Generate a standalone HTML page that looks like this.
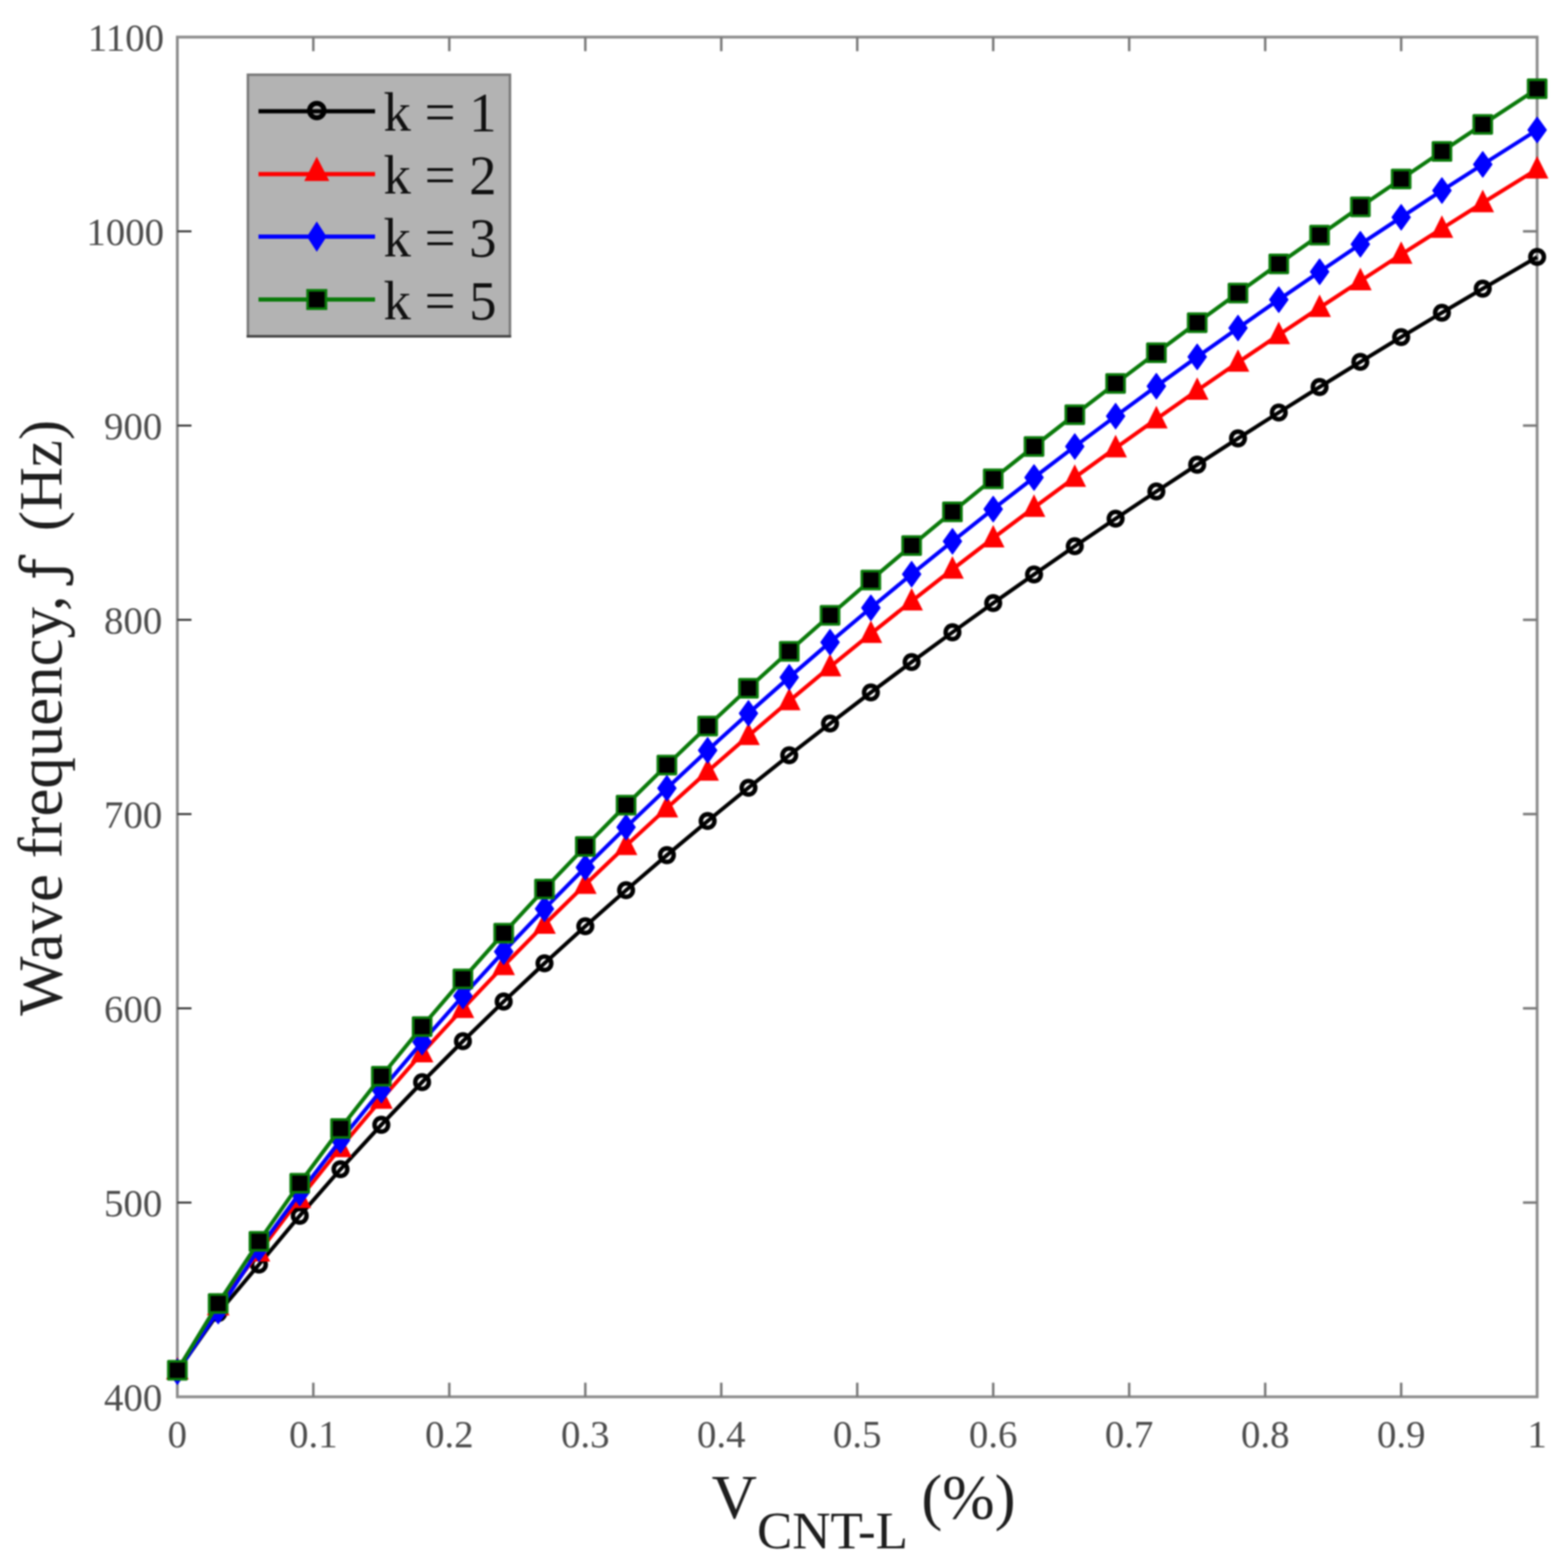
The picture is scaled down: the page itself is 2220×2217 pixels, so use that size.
<!DOCTYPE html>
<html><head><meta charset="utf-8"><title>Wave frequency vs V_CNT-L</title>
<style>
html,body{margin:0;padding:0;background:#fff;}
body{width:2220px;height:2217px;overflow:hidden;}
svg{display:block;filter:blur(0.8px);}
text{font-family:"Liberation Serif",serif;}
</style></head><body>
<svg width="2220" height="2217" viewBox="0 0 2220 2217">
<rect width="2220" height="2217" fill="#fff"/>

<rect x="251.1" y="52.5" width="1925.2" height="1925.0" fill="none" stroke="#8c8c8c" stroke-width="4"/>
<path d="M443.6,1977.5v-20M443.6,52.5v20M636.1,1977.5v-20M636.1,52.5v20M828.7,1977.5v-20M828.7,52.5v20M1021.2,1977.5v-20M1021.2,52.5v20M1213.7,1977.5v-20M1213.7,52.5v20M1406.2,1977.5v-20M1406.2,52.5v20M1598.7,1977.5v-20M1598.7,52.5v20M1791.3,1977.5v-20M1791.3,52.5v20M1983.8,1977.5v-20M1983.8,52.5v20M2176.3,1702.5h-20M2176.3,1427.5h-20M2176.3,1152.5h-20M2176.3,877.5h-20M2176.3,602.5h-20M2176.3,327.5h-20" stroke="#7a7a7a" stroke-width="3.5" fill="none"/>
<path d="M251.1,1702.5h20M251.1,1427.5h20M251.1,1152.5h20M251.1,877.5h20M251.1,602.5h20M251.1,327.5h20" stroke="#444" stroke-width="3" fill="none"/>
<g stroke-linejoin="round" stroke-linecap="butt">
<polyline points="251.1,1941.3 308.9,1859.0 366.6,1790.3 424.4,1721.1 482.1,1655.3 539.9,1592.4 597.6,1532.0 655.4,1474.0 713.1,1417.9 770.9,1363.7 828.7,1311.2 886.4,1260.2 944.2,1210.6 1001.9,1162.3 1059.7,1115.2 1117.4,1069.2 1175.2,1024.3 1233.0,980.3 1290.7,937.3 1348.5,895.1 1406.2,853.8 1464.0,813.2 1521.7,773.3 1579.5,734.2 1637.2,695.7 1695.0,657.9 1752.8,620.6 1810.5,584.0 1868.3,547.9 1926.0,512.3 1983.8,477.2 2041.5,442.7 2099.3,408.6 2176.3,363.8" fill="none" stroke="#000" stroke-width="5.5"/>
<circle cx="251.1" cy="1941.3" r="9.6" fill="none" stroke="#000" stroke-width="6.4"/><circle cx="308.9" cy="1859.0" r="9.6" fill="none" stroke="#000" stroke-width="6.4"/><circle cx="366.6" cy="1790.3" r="9.6" fill="none" stroke="#000" stroke-width="6.4"/><circle cx="424.4" cy="1721.1" r="9.6" fill="none" stroke="#000" stroke-width="6.4"/><circle cx="482.1" cy="1655.3" r="9.6" fill="none" stroke="#000" stroke-width="6.4"/><circle cx="539.9" cy="1592.4" r="9.6" fill="none" stroke="#000" stroke-width="6.4"/><circle cx="597.6" cy="1532.0" r="9.6" fill="none" stroke="#000" stroke-width="6.4"/><circle cx="655.4" cy="1474.0" r="9.6" fill="none" stroke="#000" stroke-width="6.4"/><circle cx="713.1" cy="1417.9" r="9.6" fill="none" stroke="#000" stroke-width="6.4"/><circle cx="770.9" cy="1363.7" r="9.6" fill="none" stroke="#000" stroke-width="6.4"/><circle cx="828.7" cy="1311.2" r="9.6" fill="none" stroke="#000" stroke-width="6.4"/><circle cx="886.4" cy="1260.2" r="9.6" fill="none" stroke="#000" stroke-width="6.4"/><circle cx="944.2" cy="1210.6" r="9.6" fill="none" stroke="#000" stroke-width="6.4"/><circle cx="1001.9" cy="1162.3" r="9.6" fill="none" stroke="#000" stroke-width="6.4"/><circle cx="1059.7" cy="1115.2" r="9.6" fill="none" stroke="#000" stroke-width="6.4"/><circle cx="1117.4" cy="1069.2" r="9.6" fill="none" stroke="#000" stroke-width="6.4"/><circle cx="1175.2" cy="1024.3" r="9.6" fill="none" stroke="#000" stroke-width="6.4"/><circle cx="1233.0" cy="980.3" r="9.6" fill="none" stroke="#000" stroke-width="6.4"/><circle cx="1290.7" cy="937.3" r="9.6" fill="none" stroke="#000" stroke-width="6.4"/><circle cx="1348.5" cy="895.1" r="9.6" fill="none" stroke="#000" stroke-width="6.4"/><circle cx="1406.2" cy="853.8" r="9.6" fill="none" stroke="#000" stroke-width="6.4"/><circle cx="1464.0" cy="813.2" r="9.6" fill="none" stroke="#000" stroke-width="6.4"/><circle cx="1521.7" cy="773.3" r="9.6" fill="none" stroke="#000" stroke-width="6.4"/><circle cx="1579.5" cy="734.2" r="9.6" fill="none" stroke="#000" stroke-width="6.4"/><circle cx="1637.2" cy="695.7" r="9.6" fill="none" stroke="#000" stroke-width="6.4"/><circle cx="1695.0" cy="657.9" r="9.6" fill="none" stroke="#000" stroke-width="6.4"/><circle cx="1752.8" cy="620.6" r="9.6" fill="none" stroke="#000" stroke-width="6.4"/><circle cx="1810.5" cy="584.0" r="9.6" fill="none" stroke="#000" stroke-width="6.4"/><circle cx="1868.3" cy="547.9" r="9.6" fill="none" stroke="#000" stroke-width="6.4"/><circle cx="1926.0" cy="512.3" r="9.6" fill="none" stroke="#000" stroke-width="6.4"/><circle cx="1983.8" cy="477.2" r="9.6" fill="none" stroke="#000" stroke-width="6.4"/><circle cx="2041.5" cy="442.7" r="9.6" fill="none" stroke="#000" stroke-width="6.4"/><circle cx="2099.3" cy="408.6" r="9.6" fill="none" stroke="#000" stroke-width="6.4"/><circle cx="2176.3" cy="363.8" r="9.6" fill="none" stroke="#000" stroke-width="6.4"/>
<polyline points="251.1,1939.8 308.9,1849.0 366.6,1772.8 424.4,1696.9 482.1,1624.9 539.9,1556.4 597.6,1490.8 655.4,1427.9 713.1,1367.3 770.9,1308.8 828.7,1252.2 886.4,1197.3 944.2,1144.0 1001.9,1092.1 1059.7,1041.6 1117.4,992.3 1175.2,944.2 1233.0,897.1 1290.7,851.1 1348.5,806.0 1406.2,761.8 1464.0,718.5 1521.7,676.0 1579.5,634.2 1637.2,593.2 1695.0,552.8 1752.8,513.1 1810.5,474.0 1868.3,435.6 1926.0,397.7 1983.8,360.3 2041.5,323.5 2099.3,287.2 2176.3,239.5" fill="none" stroke="#f00" stroke-width="5.5"/>
<polygon points="251.1,1922.8 265.9,1952.3 236.3,1952.3" fill="#f00" stroke="#f00" stroke-width="1.5" stroke-linejoin="miter"/><polygon points="308.9,1832.0 323.7,1861.5 294.1,1861.5" fill="#f00" stroke="#f00" stroke-width="1.5" stroke-linejoin="miter"/><polygon points="366.6,1755.8 381.4,1785.3 351.8,1785.3" fill="#f00" stroke="#f00" stroke-width="1.5" stroke-linejoin="miter"/><polygon points="424.4,1679.9 439.2,1709.4 409.6,1709.4" fill="#f00" stroke="#f00" stroke-width="1.5" stroke-linejoin="miter"/><polygon points="482.1,1607.9 496.9,1637.4 467.3,1637.4" fill="#f00" stroke="#f00" stroke-width="1.5" stroke-linejoin="miter"/><polygon points="539.9,1539.4 554.7,1568.9 525.1,1568.9" fill="#f00" stroke="#f00" stroke-width="1.5" stroke-linejoin="miter"/><polygon points="597.6,1473.8 612.4,1503.3 582.8,1503.3" fill="#f00" stroke="#f00" stroke-width="1.5" stroke-linejoin="miter"/><polygon points="655.4,1410.9 670.2,1440.4 640.6,1440.4" fill="#f00" stroke="#f00" stroke-width="1.5" stroke-linejoin="miter"/><polygon points="713.1,1350.3 727.9,1379.8 698.3,1379.8" fill="#f00" stroke="#f00" stroke-width="1.5" stroke-linejoin="miter"/><polygon points="770.9,1291.8 785.7,1321.3 756.1,1321.3" fill="#f00" stroke="#f00" stroke-width="1.5" stroke-linejoin="miter"/><polygon points="828.7,1235.2 843.5,1264.7 813.9,1264.7" fill="#f00" stroke="#f00" stroke-width="1.5" stroke-linejoin="miter"/><polygon points="886.4,1180.3 901.2,1209.8 871.6,1209.8" fill="#f00" stroke="#f00" stroke-width="1.5" stroke-linejoin="miter"/><polygon points="944.2,1127.0 959.0,1156.5 929.4,1156.5" fill="#f00" stroke="#f00" stroke-width="1.5" stroke-linejoin="miter"/><polygon points="1001.9,1075.1 1016.7,1104.6 987.1,1104.6" fill="#f00" stroke="#f00" stroke-width="1.5" stroke-linejoin="miter"/><polygon points="1059.7,1024.6 1074.5,1054.1 1044.9,1054.1" fill="#f00" stroke="#f00" stroke-width="1.5" stroke-linejoin="miter"/><polygon points="1117.4,975.3 1132.2,1004.8 1102.6,1004.8" fill="#f00" stroke="#f00" stroke-width="1.5" stroke-linejoin="miter"/><polygon points="1175.2,927.2 1190.0,956.7 1160.4,956.7" fill="#f00" stroke="#f00" stroke-width="1.5" stroke-linejoin="miter"/><polygon points="1233.0,880.1 1247.8,909.6 1218.2,909.6" fill="#f00" stroke="#f00" stroke-width="1.5" stroke-linejoin="miter"/><polygon points="1290.7,834.1 1305.5,863.6 1275.9,863.6" fill="#f00" stroke="#f00" stroke-width="1.5" stroke-linejoin="miter"/><polygon points="1348.5,789.0 1363.3,818.5 1333.7,818.5" fill="#f00" stroke="#f00" stroke-width="1.5" stroke-linejoin="miter"/><polygon points="1406.2,744.8 1421.0,774.3 1391.4,774.3" fill="#f00" stroke="#f00" stroke-width="1.5" stroke-linejoin="miter"/><polygon points="1464.0,701.5 1478.8,731.0 1449.2,731.0" fill="#f00" stroke="#f00" stroke-width="1.5" stroke-linejoin="miter"/><polygon points="1521.7,659.0 1536.5,688.5 1506.9,688.5" fill="#f00" stroke="#f00" stroke-width="1.5" stroke-linejoin="miter"/><polygon points="1579.5,617.2 1594.3,646.7 1564.7,646.7" fill="#f00" stroke="#f00" stroke-width="1.5" stroke-linejoin="miter"/><polygon points="1637.2,576.2 1652.0,605.7 1622.4,605.7" fill="#f00" stroke="#f00" stroke-width="1.5" stroke-linejoin="miter"/><polygon points="1695.0,535.8 1709.8,565.3 1680.2,565.3" fill="#f00" stroke="#f00" stroke-width="1.5" stroke-linejoin="miter"/><polygon points="1752.8,496.1 1767.6,525.6 1738.0,525.6" fill="#f00" stroke="#f00" stroke-width="1.5" stroke-linejoin="miter"/><polygon points="1810.5,457.0 1825.3,486.5 1795.7,486.5" fill="#f00" stroke="#f00" stroke-width="1.5" stroke-linejoin="miter"/><polygon points="1868.3,418.6 1883.1,448.1 1853.5,448.1" fill="#f00" stroke="#f00" stroke-width="1.5" stroke-linejoin="miter"/><polygon points="1926.0,380.7 1940.8,410.2 1911.2,410.2" fill="#f00" stroke="#f00" stroke-width="1.5" stroke-linejoin="miter"/><polygon points="1983.8,343.3 1998.6,372.8 1969.0,372.8" fill="#f00" stroke="#f00" stroke-width="1.5" stroke-linejoin="miter"/><polygon points="2041.5,306.5 2056.3,336.0 2026.7,336.0" fill="#f00" stroke="#f00" stroke-width="1.5" stroke-linejoin="miter"/><polygon points="2099.3,270.2 2114.1,299.7 2084.5,299.7" fill="#f00" stroke="#f00" stroke-width="1.5" stroke-linejoin="miter"/><polygon points="2176.3,222.5 2191.1,252.0 2161.5,252.0" fill="#f00" stroke="#f00" stroke-width="1.5" stroke-linejoin="miter"/>
<polyline points="251.1,1941.7 308.9,1856.0 366.6,1767.9 424.4,1689.0 482.1,1614.3 539.9,1543.2 597.6,1475.3 655.4,1410.0 713.1,1347.2 770.9,1286.6 828.7,1228.0 886.4,1171.1 944.2,1115.9 1001.9,1062.2 1059.7,1009.9 1117.4,958.9 1175.2,909.2 1233.0,860.5 1290.7,812.9 1348.5,766.4 1406.2,720.7 1464.0,676.0 1521.7,632.1 1579.5,589.1 1637.2,546.8 1695.0,505.2 1752.8,464.4 1810.5,424.2 1868.3,384.7 1926.0,345.8 1983.8,307.6 2041.5,269.8 2099.3,232.7 2176.3,184.0" fill="none" stroke="#00f" stroke-width="5.5"/>
<polygon points="251.1,1923.7 264.1,1941.7 251.1,1959.7 238.1,1941.7" fill="#00f" stroke="#00f" stroke-width="1.5"/><polygon points="308.9,1838.0 321.9,1856.0 308.9,1874.0 295.9,1856.0" fill="#00f" stroke="#00f" stroke-width="1.5"/><polygon points="366.6,1749.9 379.6,1767.9 366.6,1785.9 353.6,1767.9" fill="#00f" stroke="#00f" stroke-width="1.5"/><polygon points="424.4,1671.0 437.4,1689.0 424.4,1707.0 411.4,1689.0" fill="#00f" stroke="#00f" stroke-width="1.5"/><polygon points="482.1,1596.3 495.1,1614.3 482.1,1632.3 469.1,1614.3" fill="#00f" stroke="#00f" stroke-width="1.5"/><polygon points="539.9,1525.2 552.9,1543.2 539.9,1561.2 526.9,1543.2" fill="#00f" stroke="#00f" stroke-width="1.5"/><polygon points="597.6,1457.3 610.6,1475.3 597.6,1493.3 584.6,1475.3" fill="#00f" stroke="#00f" stroke-width="1.5"/><polygon points="655.4,1392.0 668.4,1410.0 655.4,1428.0 642.4,1410.0" fill="#00f" stroke="#00f" stroke-width="1.5"/><polygon points="713.1,1329.2 726.1,1347.2 713.1,1365.2 700.1,1347.2" fill="#00f" stroke="#00f" stroke-width="1.5"/><polygon points="770.9,1268.6 783.9,1286.6 770.9,1304.6 757.9,1286.6" fill="#00f" stroke="#00f" stroke-width="1.5"/><polygon points="828.7,1210.0 841.7,1228.0 828.7,1246.0 815.7,1228.0" fill="#00f" stroke="#00f" stroke-width="1.5"/><polygon points="886.4,1153.1 899.4,1171.1 886.4,1189.1 873.4,1171.1" fill="#00f" stroke="#00f" stroke-width="1.5"/><polygon points="944.2,1097.9 957.2,1115.9 944.2,1133.9 931.2,1115.9" fill="#00f" stroke="#00f" stroke-width="1.5"/><polygon points="1001.9,1044.2 1014.9,1062.2 1001.9,1080.2 988.9,1062.2" fill="#00f" stroke="#00f" stroke-width="1.5"/><polygon points="1059.7,991.9 1072.7,1009.9 1059.7,1027.9 1046.7,1009.9" fill="#00f" stroke="#00f" stroke-width="1.5"/><polygon points="1117.4,940.9 1130.4,958.9 1117.4,976.9 1104.4,958.9" fill="#00f" stroke="#00f" stroke-width="1.5"/><polygon points="1175.2,891.2 1188.2,909.2 1175.2,927.2 1162.2,909.2" fill="#00f" stroke="#00f" stroke-width="1.5"/><polygon points="1233.0,842.5 1246.0,860.5 1233.0,878.5 1220.0,860.5" fill="#00f" stroke="#00f" stroke-width="1.5"/><polygon points="1290.7,794.9 1303.7,812.9 1290.7,830.9 1277.7,812.9" fill="#00f" stroke="#00f" stroke-width="1.5"/><polygon points="1348.5,748.4 1361.5,766.4 1348.5,784.4 1335.5,766.4" fill="#00f" stroke="#00f" stroke-width="1.5"/><polygon points="1406.2,702.7 1419.2,720.7 1406.2,738.7 1393.2,720.7" fill="#00f" stroke="#00f" stroke-width="1.5"/><polygon points="1464.0,658.0 1477.0,676.0 1464.0,694.0 1451.0,676.0" fill="#00f" stroke="#00f" stroke-width="1.5"/><polygon points="1521.7,614.1 1534.7,632.1 1521.7,650.1 1508.7,632.1" fill="#00f" stroke="#00f" stroke-width="1.5"/><polygon points="1579.5,571.1 1592.5,589.1 1579.5,607.1 1566.5,589.1" fill="#00f" stroke="#00f" stroke-width="1.5"/><polygon points="1637.2,528.8 1650.2,546.8 1637.2,564.8 1624.2,546.8" fill="#00f" stroke="#00f" stroke-width="1.5"/><polygon points="1695.0,487.2 1708.0,505.2 1695.0,523.2 1682.0,505.2" fill="#00f" stroke="#00f" stroke-width="1.5"/><polygon points="1752.8,446.4 1765.8,464.4 1752.8,482.4 1739.8,464.4" fill="#00f" stroke="#00f" stroke-width="1.5"/><polygon points="1810.5,406.2 1823.5,424.2 1810.5,442.2 1797.5,424.2" fill="#00f" stroke="#00f" stroke-width="1.5"/><polygon points="1868.3,366.7 1881.3,384.7 1868.3,402.7 1855.3,384.7" fill="#00f" stroke="#00f" stroke-width="1.5"/><polygon points="1926.0,327.8 1939.0,345.8 1926.0,363.8 1913.0,345.8" fill="#00f" stroke="#00f" stroke-width="1.5"/><polygon points="1983.8,289.6 1996.8,307.6 1983.8,325.6 1970.8,307.6" fill="#00f" stroke="#00f" stroke-width="1.5"/><polygon points="2041.5,251.8 2054.5,269.8 2041.5,287.8 2028.5,269.8" fill="#00f" stroke="#00f" stroke-width="1.5"/><polygon points="2099.3,214.7 2112.3,232.7 2099.3,250.7 2086.3,232.7" fill="#00f" stroke="#00f" stroke-width="1.5"/><polygon points="2176.3,166.0 2189.3,184.0 2176.3,202.0 2163.3,184.0" fill="#00f" stroke="#00f" stroke-width="1.5"/>
<polyline points="251.1,1939.9 308.9,1845.3 366.6,1757.5 424.4,1675.2 482.1,1597.5 539.9,1523.7 597.6,1453.3 655.4,1385.9 713.1,1321.1 770.9,1258.7 828.7,1198.3 886.4,1139.8 944.2,1083.1 1001.9,1028.0 1059.7,974.3 1117.4,922.0 1175.2,871.0 1233.0,821.1 1290.7,772.4 1348.5,724.6 1406.2,677.9 1464.0,632.0 1521.7,587.0 1579.5,542.9 1637.2,499.5 1695.0,456.8 1752.8,414.8 1810.5,373.6 1868.3,332.9 1926.0,292.8 1983.8,253.4 2041.5,214.5 2099.3,176.1 2176.3,125.7" fill="none" stroke="#0a7a0a" stroke-width="5.5"/>
<rect x="238.35" y="1927.18" width="25.50" height="25.50" fill="#000" stroke="#0a7a0a" stroke-width="3.75"/><rect x="296.11" y="1832.54" width="25.50" height="25.50" fill="#000" stroke="#0a7a0a" stroke-width="3.75"/><rect x="353.86" y="1744.72" width="25.50" height="25.50" fill="#000" stroke="#0a7a0a" stroke-width="3.75"/><rect x="411.62" y="1662.43" width="25.50" height="25.50" fill="#000" stroke="#0a7a0a" stroke-width="3.75"/><rect x="469.37" y="1584.75" width="25.50" height="25.50" fill="#000" stroke="#0a7a0a" stroke-width="3.75"/><rect x="527.13" y="1510.98" width="25.50" height="25.50" fill="#000" stroke="#0a7a0a" stroke-width="3.75"/><rect x="584.89" y="1440.60" width="25.50" height="25.50" fill="#000" stroke="#0a7a0a" stroke-width="3.75"/><rect x="642.64" y="1373.18" width="25.50" height="25.50" fill="#000" stroke="#0a7a0a" stroke-width="3.75"/><rect x="700.40" y="1308.37" width="25.50" height="25.50" fill="#000" stroke="#0a7a0a" stroke-width="3.75"/><rect x="758.15" y="1245.90" width="25.50" height="25.50" fill="#000" stroke="#0a7a0a" stroke-width="3.75"/><rect x="815.91" y="1185.54" width="25.50" height="25.50" fill="#000" stroke="#0a7a0a" stroke-width="3.75"/><rect x="873.67" y="1127.08" width="25.50" height="25.50" fill="#000" stroke="#0a7a0a" stroke-width="3.75"/><rect x="931.42" y="1070.36" width="25.50" height="25.50" fill="#000" stroke="#0a7a0a" stroke-width="3.75"/><rect x="989.18" y="1015.24" width="25.50" height="25.50" fill="#000" stroke="#0a7a0a" stroke-width="3.75"/><rect x="1046.93" y="961.58" width="25.50" height="25.50" fill="#000" stroke="#0a7a0a" stroke-width="3.75"/><rect x="1104.69" y="909.28" width="25.50" height="25.50" fill="#000" stroke="#0a7a0a" stroke-width="3.75"/><rect x="1162.45" y="858.25" width="25.50" height="25.50" fill="#000" stroke="#0a7a0a" stroke-width="3.75"/><rect x="1220.20" y="808.39" width="25.50" height="25.50" fill="#000" stroke="#0a7a0a" stroke-width="3.75"/><rect x="1277.96" y="759.62" width="25.50" height="25.50" fill="#000" stroke="#0a7a0a" stroke-width="3.75"/><rect x="1335.71" y="711.89" width="25.50" height="25.50" fill="#000" stroke="#0a7a0a" stroke-width="3.75"/><rect x="1393.47" y="665.13" width="25.50" height="25.50" fill="#000" stroke="#0a7a0a" stroke-width="3.75"/><rect x="1451.23" y="619.28" width="25.50" height="25.50" fill="#000" stroke="#0a7a0a" stroke-width="3.75"/><rect x="1508.98" y="574.29" width="25.50" height="25.50" fill="#000" stroke="#0a7a0a" stroke-width="3.75"/><rect x="1566.74" y="530.12" width="25.50" height="25.50" fill="#000" stroke="#0a7a0a" stroke-width="3.75"/><rect x="1624.49" y="486.72" width="25.50" height="25.50" fill="#000" stroke="#0a7a0a" stroke-width="3.75"/><rect x="1682.25" y="444.06" width="25.50" height="25.50" fill="#000" stroke="#0a7a0a" stroke-width="3.75"/><rect x="1740.01" y="402.10" width="25.50" height="25.50" fill="#000" stroke="#0a7a0a" stroke-width="3.75"/><rect x="1797.76" y="360.80" width="25.50" height="25.50" fill="#000" stroke="#0a7a0a" stroke-width="3.75"/><rect x="1855.52" y="320.14" width="25.50" height="25.50" fill="#000" stroke="#0a7a0a" stroke-width="3.75"/><rect x="1913.27" y="280.09" width="25.50" height="25.50" fill="#000" stroke="#0a7a0a" stroke-width="3.75"/><rect x="1971.03" y="240.62" width="25.50" height="25.50" fill="#000" stroke="#0a7a0a" stroke-width="3.75"/><rect x="2028.79" y="201.70" width="25.50" height="25.50" fill="#000" stroke="#0a7a0a" stroke-width="3.75"/><rect x="2086.54" y="163.32" width="25.50" height="25.50" fill="#000" stroke="#0a7a0a" stroke-width="3.75"/><rect x="2163.55" y="112.95" width="25.50" height="25.50" fill="#000" stroke="#0a7a0a" stroke-width="3.75"/>
</g>
<text x="229.8" y="1997.4" font-size="55" fill="#4c4c4c" text-anchor="end">400</text>
<text x="229.8" y="1722.4" font-size="55" fill="#4c4c4c" text-anchor="end">500</text>
<text x="229.8" y="1447.4" font-size="55" fill="#4c4c4c" text-anchor="end">600</text>
<text x="229.8" y="1172.4" font-size="55" fill="#4c4c4c" text-anchor="end">700</text>
<text x="229.8" y="897.4" font-size="55" fill="#4c4c4c" text-anchor="end">800</text>
<text x="229.8" y="622.4" font-size="55" fill="#4c4c4c" text-anchor="end">900</text>
<text x="232.2" y="347.4" font-size="55" fill="#4c4c4c" text-anchor="end">1000</text>
<text x="232.2" y="72.4" font-size="55" fill="#4c4c4c" text-anchor="end">1100</text>
<text x="251.1" y="2049" font-size="55" fill="#4c4c4c" text-anchor="middle">0</text>
<text x="443.6" y="2049" font-size="55" fill="#4c4c4c" text-anchor="middle">0.1</text>
<text x="636.1" y="2049" font-size="55" fill="#4c4c4c" text-anchor="middle">0.2</text>
<text x="828.7" y="2049" font-size="55" fill="#4c4c4c" text-anchor="middle">0.3</text>
<text x="1021.2" y="2049" font-size="55" fill="#4c4c4c" text-anchor="middle">0.4</text>
<text x="1213.7" y="2049" font-size="55" fill="#4c4c4c" text-anchor="middle">0.5</text>
<text x="1406.2" y="2049" font-size="55" fill="#4c4c4c" text-anchor="middle">0.6</text>
<text x="1598.7" y="2049" font-size="55" fill="#4c4c4c" text-anchor="middle">0.7</text>
<text x="1791.3" y="2049" font-size="55" fill="#4c4c4c" text-anchor="middle">0.8</text>
<text x="1983.8" y="2049" font-size="55" fill="#4c4c4c" text-anchor="middle">0.9</text>
<text x="2176.3" y="2049" font-size="55" fill="#4c4c4c" text-anchor="middle">1</text>
<text transform="translate(86.5,1438.0) rotate(-90)" font-size="89" fill="#1e1e1e">Wave frequency, <tspan font-family="DejaVu Serif, serif" font-size="82" dx="0" dy="2.5">ƒ</tspan><tspan dx="17" dy="-2.5" font-size="86"> (Hz)</tspan></text>
<text x="1007.4" y="2148.5" font-size="89" fill="#1e1e1e">V</text>
<text x="1071.7" y="2191.5" font-size="75" fill="#1e1e1e">CNT-L</text>
<text x="1304.4" y="2149.2" font-size="89" fill="#1e1e1e">(%)</text>
<rect x="351" y="105.8" width="371" height="370.4" fill="#b3b3b3" stroke="#787878" stroke-width="3.5"/>
<path d="M349.2,476.2H723.5" stroke="#404040" stroke-width="3.2"/>
<path d="M366,157.5H531" stroke="#000" stroke-width="6"/>
<circle cx="448.5" cy="156.5" r="10.3" fill="none" stroke="#000" stroke-width="7"/>
<text x="543" y="185.0" font-size="77.5" fill="#111">k = 1</text>
<path d="M366,246.5H531" stroke="#f00" stroke-width="6"/>
<polygon points="448.5,223.5 465.0,255.5 432.0,255.5" fill="#f00" stroke="#f00" stroke-width="1.5" stroke-linejoin="miter"/>
<text x="543" y="274.0" font-size="77.5" fill="#111">k = 2</text>
<path d="M366,335H531" stroke="#00f" stroke-width="6"/>
<polygon points="448.5,315.0 461.5,335.0 448.5,355.0 435.5,335.0" fill="#00f" stroke="#00f" stroke-width="1.5"/>
<text x="543" y="362.5" font-size="77.5" fill="#111">k = 3</text>
<path d="M366,424H531" stroke="#0a7a0a" stroke-width="6"/>
<rect x="435.50" y="411.00" width="26.00" height="26.00" fill="#000" stroke="#0a7a0a" stroke-width="3.75"/>
<text x="543" y="451.5" font-size="77.5" fill="#111">k = 5</text>
</svg>
</body></html>
